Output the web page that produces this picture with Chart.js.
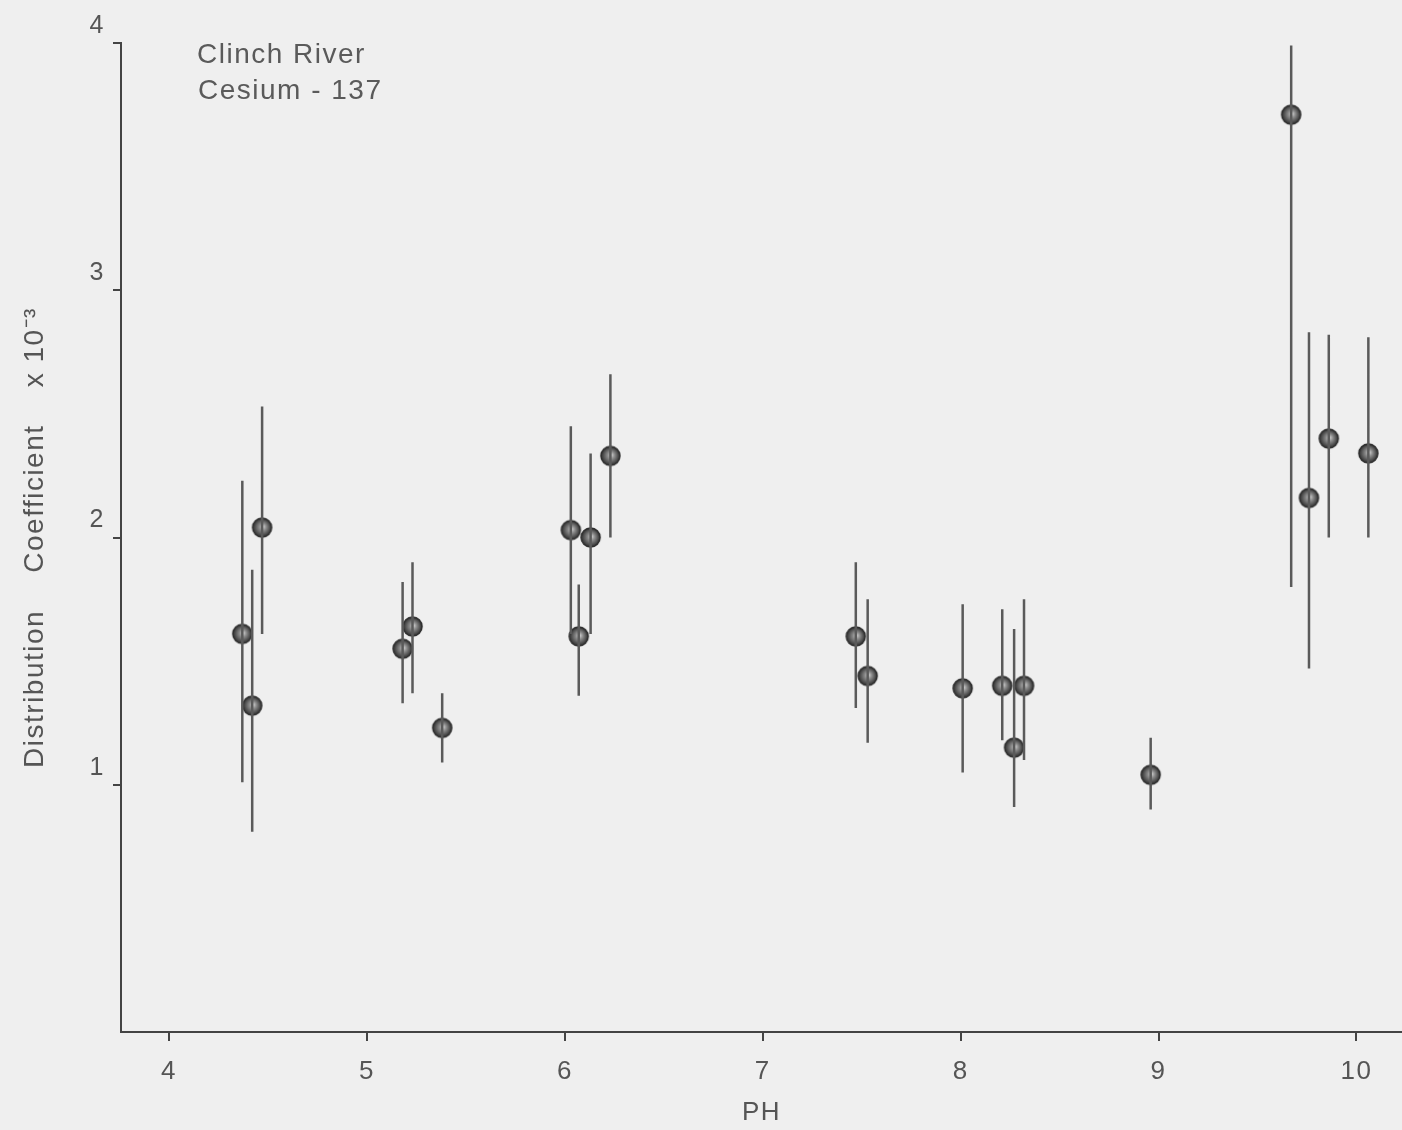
<!DOCTYPE html>
<html>
<head>
<meta charset="utf-8">
<script src="https://cdn.jsdelivr.net/npm/chart.js@4/dist/chart.umd.min.js"></script>
<style>
  html, body { margin: 0; padding: 0; background: #efefef; }
  #wrap { width: 1402px; height: 1130px; position: relative; }
</style>
</head>
<body>
<div id="wrap"><canvas id="c" width="1402" height="1130"></canvas></div>
<script>
// ---- data ----
const phValues   = [4.37, 4.42, 4.47, 5.18, 5.23, 5.38, 6.03, 6.13, 6.07, 6.23, 7.47, 7.53, 8.01, 8.21, 8.27, 8.32, 8.96, 9.67, 9.76, 9.86, 10.06];
const kdValues   = [1.61, 1.32, 2.04, 1.55, 1.64, 1.23, 2.03, 2.00, 1.60, 2.33, 1.60, 1.44, 1.39, 1.40, 1.15, 1.40, 1.04, 3.71, 2.16, 2.40, 2.34];
const kdHigh     = [2.23, 1.87, 2.53, 1.82, 1.90, 1.37, 2.45, 2.34, 1.81, 2.66, 1.90, 1.75, 1.73, 1.71, 1.63, 1.75, 1.19, 3.99, 2.83, 2.82, 2.81];
const kdLow      = [1.01, 0.81, 1.61, 1.33, 1.37, 1.09, 1.61, 1.61, 1.36, 2.00, 1.31, 1.17, 1.05, 1.18, 0.91, 1.10, 0.90, 1.80, 1.47, 2.00, 2.00];
const xTickVals  = [4, 5, 6, 7, 8, 9, 10];
const yTickVals  = [1, 2, 3, 4];
const titleLines = ["Clinch River", "Cesium - 137"];
const xAxisTitle = "PH";
const yAxisTitle = "Distribution    Coefficient    x 10\u207B\u00B3";

// ---- build datasets from arrays ----
const points = phValues.map((x, i) => ({ x: x, y: kdValues[i] }));
const bars = [];
phValues.forEach((x, i) => {
  bars.push({ x: x, y: kdLow[i] });
  bars.push({ x: x, y: kdHigh[i] });
  bars.push({ x: x, y: null });
});

// shaded bead marker
function makeDot(r) {
  const c = document.createElement('canvas');
  const s = Math.ceil(r * 2 + 4);
  c.width = s; c.height = s;
  const g = c.getContext('2d');
  const cx = s / 2, cy = s / 2;
  const grad = g.createRadialGradient(cx + 1, cy - 1, 0.5, cx, cy, r);
  grad.addColorStop(0, '#c8c8c8');
  grad.addColorStop(0.35, '#8a8a8a');
  grad.addColorStop(0.8, '#4a4a4a');
  grad.addColorStop(1, '#2e2e2e');
  g.beginPath();
  g.arc(cx, cy, r, 0, Math.PI * 2);
  g.fillStyle = grad;
  g.fill();
  g.lineWidth = 1.5;
  g.strokeStyle = '#2e2e2e';
  g.stroke();
  return c;
}
const dot = makeDot(9.5);

const FONT = '"Liberation Sans", Arial, sans-serif';

const bgPlugin = {
  id: 'bg',
  beforeDraw(chart) {
    const ctx = chart.ctx;
    ctx.save();
    ctx.fillStyle = '#efefef';
    ctx.fillRect(0, 0, chart.width, chart.height);
    ctx.restore();
    try { ctx.letterSpacing = '1.5px'; } catch (e) {}
  }
};
const labelPlugin = {
  id: 'lbl',
  afterDraw(chart) {
    const ctx = chart.ctx;
    ctx.save();
    try { ctx.letterSpacing = '1.5px'; } catch (e) {}
    ctx.fillStyle = '#5a5a5a';
    ctx.font = '28px ' + FONT;
    ctx.textBaseline = 'alphabetic';
    ctx.textAlign = 'left';
    ctx.fillText(titleLines[0], 197, 63);
    ctx.fillText(titleLines[1], 198, 99);
    ctx.restore();
  }
};

new Chart(document.getElementById('c'), {
  type: 'scatter',
  data: {
    datasets: [
      {
        type: 'line',
        data: bars,
        borderColor: '#5a5a5a',
        borderWidth: 2.5,
        pointRadius: 0,
        spanGaps: false,
        fill: false,
        tension: 0
      },
      {
        type: 'scatter',
        data: points,
        pointStyle: dot,
        pointRadius: 10
      }
    ]
  },
  plugins: [bgPlugin, labelPlugin],
  options: {
    responsive: false,
    animation: false,
    events: [],
    layout: { autoPadding: false, padding: { top: 43, right: 0, left: 0, bottom: 0 } },
    plugins: { legend: { display: false }, tooltip: { enabled: false } },
    scales: {
      x: {
        type: 'linear',
        min: 3.757,
        max: 10.23,
        afterBuildTicks: s => { s.ticks = xTickVals.map(v => ({ value: v })); },
        afterFit: s => { s.height = 98; },
        border: { display: true, color: '#444', width: 2 },
        grid: { display: true, drawOnChartArea: false, drawTicks: true, tickLength: 9, color: '#444', lineWidth: 2 },
        ticks: {
          color: '#555',
          font: { family: FONT, size: 26 },
          padding: 15,
          maxRotation: 0,
          callback: v => String(v)
        },
        title: {
          display: true,
          text: xAxisTitle,
          color: '#555',
          font: { family: FONT, size: 26 },
          padding: { top: 0, bottom: 2 }
        }
      },
      y: {
        type: 'linear',
        min: 0,
        max: 4,
        afterBuildTicks: s => { s.ticks = yTickVals.map(v => ({ value: v })); },
        afterFit: s => { s.width = 121; },
        border: { display: true, color: '#444', width: 2 },
        grid: { display: true, drawOnChartArea: false, drawTicks: true, tickLength: 8, color: '#444', lineWidth: 2 },
        ticks: {
          color: '#555',
          font: { family: FONT, size: 25 },
          padding: 8,
          labelOffset: -17,
          callback: v => String(v)
        },
        title: {
          display: true,
          text: yAxisTitle,
          color: '#555',
          font: { family: FONT, size: 28 },
          padding: { top: 18, bottom: 0 }
        }
      }
    }
  }
});
</script>
</body>
</html>
